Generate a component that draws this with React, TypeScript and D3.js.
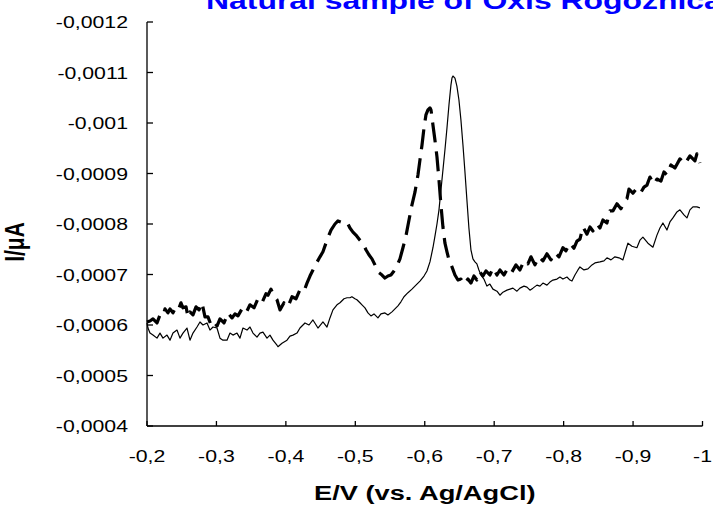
import React from "react";
import * as d3 from "d3";

const W = 713;
const H = 510;

const title = "Natural sample of Oxis Rogoznica";
const xTitle = "E/V (vs. Ag/AgCl)";
const yTitle = "I/μA";

const xTicks = [-0.2, -0.3, -0.4, -0.5, -0.6, -0.7, -0.8, -0.9, -1];
const yTicks = [-0.0012, -0.0011, -0.001, -0.0009, -0.0008, -0.0007, -0.0006, -0.0005, -0.0004];

// Thin solid voltammogram: [E (V), I]
const solidTrace: [number, number][] = [
  [-0.2000,-0.000604],[-0.2014,-0.000594],[-0.2043,-0.000584],[-0.2086,-0.000580],[-0.2144,-0.000574],[-0.2187,-0.000584],[-0.2230,-0.000574],[-0.2288,-0.000580],[-0.2331,-0.000570],[-0.2374,-0.000584],[-0.2432,-0.000590],[-0.2475,-0.000574],[-0.2518,-0.000584],[-0.2576,-0.000594],[-0.2619,-0.000570],[-0.2662,-0.000584],[-0.2720,-0.000596],[-0.2763,-0.000606],[-0.2806,-0.000600],[-0.2864,-0.000604],[-0.2907,-0.000590],[-0.2950,-0.000596],[-0.3008,-0.000594],[-0.3051,-0.000574],[-0.3094,-0.000570],[-0.3152,-0.000570],[-0.3195,-0.000584],[-0.3238,-0.000580],[-0.3296,-0.000584],[-0.3339,-0.000574],[-0.3382,-0.000594],[-0.3440,-0.000590],[-0.3483,-0.000596],[-0.3526,-0.000584],[-0.3584,-0.000576],[-0.3627,-0.000584],[-0.3670,-0.000586],[-0.3728,-0.000574],[-0.3771,-0.000580],[-0.3814,-0.000570],[-0.3872,-0.000560],[-0.3886,-0.000557],[-0.3944,-0.000564],[-0.4016,-0.000570],[-0.4059,-0.000578],[-0.4102,-0.000580],[-0.4160,-0.000584],[-0.4203,-0.000594],[-0.4275,-0.000604],[-0.4333,-0.000600],[-0.4390,-0.000610],[-0.4462,-0.000594],[-0.4534,-0.000606],[-0.4592,-0.000596],[-0.4635,-0.000614],[-0.4678,-0.000630],[-0.4736,-0.000640],[-0.4779,-0.000644],[-0.4837,-0.000652],[-0.4880,-0.000654],[-0.4923,-0.000654],[-0.4951,-0.000656],[-0.4995,-0.000652],[-0.5023,-0.000650],[-0.5067,-0.000644],[-0.5096,-0.000640],[-0.5139,-0.000634],[-0.5182,-0.000624],[-0.5225,-0.000618],[-0.5269,-0.000622],[-0.5326,-0.000614],[-0.5369,-0.000622],[-0.5427,-0.000624],[-0.5470,-0.000620],[-0.5528,-0.000626],[-0.5571,-0.000632],[-0.5614,-0.000638],[-0.5657,-0.000646],[-0.5701,-0.000656],[-0.5758,-0.000664],[-0.5816,-0.000671],[-0.5873,-0.000679],[-0.5931,-0.000687],[-0.5989,-0.000697],[-0.6032,-0.000707],[-0.6075,-0.000725],[-0.6118,-0.000753],[-0.6147,-0.000776],[-0.6176,-0.000800],[-0.6205,-0.000828],[-0.6233,-0.000867],[-0.6262,-0.000907],[-0.6291,-0.000947],[-0.6320,-0.000990],[-0.6349,-0.001036],[-0.6377,-0.001075],[-0.6392,-0.001089],[-0.6406,-0.001093],[-0.6435,-0.001089],[-0.6463,-0.001073],[-0.6492,-0.001046],[-0.6521,-0.001006],[-0.6550,-0.000957],[-0.6579,-0.000903],[-0.6607,-0.000848],[-0.6636,-0.000792],[-0.6665,-0.000749],[-0.6694,-0.000731],[-0.6723,-0.000725],[-0.6751,-0.000721],[-0.6780,-0.000709],[-0.6809,-0.000699],[-0.6852,-0.000691],[-0.6895,-0.000677],[-0.6938,-0.000681],[-0.6982,-0.000671],[-0.7040,-0.000667],[-0.7083,-0.000659],[-0.7126,-0.000665],[-0.7184,-0.000669],[-0.7227,-0.000671],[-0.7270,-0.000673],[-0.7328,-0.000667],[-0.7371,-0.000673],[-0.7429,-0.000677],[-0.7472,-0.000675],[-0.7515,-0.000669],[-0.7558,-0.000673],[-0.7616,-0.000679],[-0.7659,-0.000677],[-0.7702,-0.000683],[-0.7760,-0.000679],[-0.7803,-0.000685],[-0.7846,-0.000689],[-0.7904,-0.000691],[-0.7947,-0.000695],[-0.7990,-0.000691],[-0.8048,-0.000695],[-0.8091,-0.000689],[-0.8120,-0.000687],[-0.8163,-0.000699],[-0.8206,-0.000709],[-0.8235,-0.000715],[-0.8293,-0.000709],[-0.8350,-0.000711],[-0.8408,-0.000719],[-0.8451,-0.000723],[-0.8523,-0.000725],[-0.8581,-0.000727],[-0.8624,-0.000733],[-0.8682,-0.000729],[-0.8739,-0.000735],[-0.8797,-0.000733],[-0.8854,-0.000729],[-0.8897,-0.000749],[-0.8926,-0.000762],[-0.8984,-0.000756],[-0.9055,-0.000753],[-0.9099,-0.000768],[-0.9142,-0.000774],[-0.9214,-0.000762],[-0.9286,-0.000754],[-0.9344,-0.000778],[-0.9387,-0.000792],[-0.9430,-0.000802],[-0.9488,-0.000788],[-0.9531,-0.000804],[-0.9574,-0.000812],[-0.9632,-0.000824],[-0.9675,-0.000828],[-0.9733,-0.000818],[-0.9776,-0.000812],[-0.9819,-0.000828],[-0.9862,-0.000834],[-0.9920,-0.000834],[-0.9963,-0.000832],
];

// Bold dashed voltammogram (noisy baseline): [E (V), I]
const dashedTrace: [number, number][] = [
  [-0.2000,-0.000606],[-0.2043,-0.000608],[-0.2086,-0.000612],[-0.2144,-0.000604],[-0.2187,-0.000620],[-0.2230,-0.000618],[-0.2259,-0.000632],[-0.2302,-0.000624],[-0.2331,-0.000632],[-0.2374,-0.000624],[-0.2403,-0.000632],[-0.2446,-0.000628],[-0.2489,-0.000644],[-0.2518,-0.000634],[-0.2562,-0.000636],[-0.2590,-0.000616],[-0.2619,-0.000626],[-0.2662,-0.000620],[-0.2706,-0.000636],[-0.2749,-0.000630],[-0.2792,-0.000644],[-0.2835,-0.000616],[-0.2878,-0.000616],[-0.2922,-0.000600],[-0.2965,-0.000606],[-0.3008,-0.000598],[-0.3051,-0.000612],[-0.3109,-0.000604],[-0.3166,-0.000624],[-0.3224,-0.000614],[-0.3267,-0.000622],[-0.3310,-0.000618],[-0.3368,-0.000632],[-0.3426,-0.000624],[-0.3483,-0.000640],[-0.3541,-0.000634],[-0.3598,-0.000652],[-0.3656,-0.000644],[-0.3714,-0.000662],[-0.3742,-0.000659],[-0.3785,-0.000671],[-0.3829,-0.000658],[-0.3872,-0.000650],[-0.3915,-0.000630],[-0.3973,-0.000644],[-0.4030,-0.000636],[-0.4088,-0.000656],[-0.4146,-0.000652],[-0.4203,-0.000670],[-0.4261,-0.000667],[-0.4304,-0.000683],[-0.4347,-0.000697],[-0.4390,-0.000709],[-0.4434,-0.000721],[-0.4491,-0.000735],[-0.4534,-0.000745],[-0.4592,-0.000768],[-0.4650,-0.000788],[-0.4707,-0.000800],[-0.4750,-0.000806],[-0.4793,-0.000804],[-0.4837,-0.000804],[-0.4880,-0.000804],[-0.4923,-0.000792],[-0.4966,-0.000784],[-0.5009,-0.000778],[-0.5067,-0.000768],[-0.5110,-0.000762],[-0.5153,-0.000749],[-0.5196,-0.000739],[-0.5240,-0.000731],[-0.5283,-0.000719],[-0.5326,-0.000705],[-0.5384,-0.000699],[-0.5427,-0.000693],[-0.5470,-0.000697],[-0.5513,-0.000699],[-0.5557,-0.000707],[-0.5600,-0.000717],[-0.5643,-0.000731],[-0.5686,-0.000753],[-0.5729,-0.000776],[-0.5773,-0.000808],[-0.5816,-0.000838],[-0.5859,-0.000863],[-0.5902,-0.000897],[-0.5931,-0.000927],[-0.5960,-0.000956],[-0.5989,-0.000990],[-0.6017,-0.001016],[-0.6046,-0.001026],[-0.6075,-0.001030],[-0.6090,-0.001026],[-0.6118,-0.000996],[-0.6147,-0.000966],[-0.6176,-0.000933],[-0.6205,-0.000887],[-0.6233,-0.000838],[-0.6262,-0.000794],[-0.6291,-0.000762],[-0.6320,-0.000745],[-0.6349,-0.000729],[-0.6392,-0.000715],[-0.6435,-0.000699],[-0.6478,-0.000689],[-0.6521,-0.000691],[-0.6564,-0.000681],[-0.6622,-0.000691],[-0.6665,-0.000683],[-0.6708,-0.000697],[-0.6751,-0.000689],[-0.6795,-0.000705],[-0.6838,-0.000697],[-0.6881,-0.000707],[-0.6938,-0.000699],[-0.6982,-0.000713],[-0.7040,-0.000699],[-0.7083,-0.000709],[-0.7141,-0.000699],[-0.7198,-0.000713],[-0.7256,-0.000705],[-0.7314,-0.000719],[-0.7371,-0.000709],[-0.7429,-0.000727],[-0.7486,-0.000721],[-0.7529,-0.000735],[-0.7587,-0.000719],[-0.7645,-0.000735],[-0.7702,-0.000727],[-0.7760,-0.000741],[-0.7817,-0.000729],[-0.7875,-0.000743],[-0.7933,-0.000735],[-0.7990,-0.000753],[-0.8033,-0.000747],[-0.8091,-0.000762],[-0.8149,-0.000752],[-0.8192,-0.000766],[-0.8235,-0.000770],[-0.8278,-0.000794],[-0.8336,-0.000780],[-0.8379,-0.000794],[-0.8422,-0.000786],[-0.8480,-0.000800],[-0.8523,-0.000792],[-0.8566,-0.000808],[-0.8624,-0.000802],[-0.8667,-0.000826],[-0.8710,-0.000826],[-0.8768,-0.000840],[-0.8825,-0.000830],[-0.8883,-0.000846],[-0.8912,-0.000850],[-0.8941,-0.000869],[-0.8998,-0.000861],[-0.9056,-0.000871],[-0.9114,-0.000863],[-0.9157,-0.000873],[-0.9200,-0.000877],[-0.9243,-0.000893],[-0.9301,-0.000879],[-0.9344,-0.000889],[-0.9402,-0.000885],[-0.9445,-0.000903],[-0.9488,-0.000897],[-0.9546,-0.000917],[-0.9603,-0.000911],[-0.9675,-0.000929],[-0.9747,-0.000919],[-0.9819,-0.000935],[-0.9891,-0.000925],[-0.9920,-0.000939],[-0.9963,-0.000921],
];

const FONT = "'Liberation Sans', Arial, sans-serif";
const SX = 1.33; // horizontal stretch of all chart text

const plot = { left: 147, right: 702.5, top: 22, bottom: 426 };

const locale = d3.formatLocale({
  decimal: ",",
  thousands: ".",
  grouping: [3],
  currency: ["", ""],
  minus: "-",
});
const fmt = locale.format("~g");

export default function App() {
  const x = d3.scaleLinear().domain([-0.2, -1]).range([plot.left, plot.right]);
  const y = d3.scaleLinear().domain([-0.0012, -0.0004]).range([plot.top, plot.bottom]);

  const line = d3
    .line<[number, number]>()
    .x((d) => x(d[0]))
    .y((d) => y(d[1]));

  return (
    <svg
      width={W}
      height={H}
      style={{ position: "absolute", left: 0, top: 0, background: "#fff" }}
      fontFamily={FONT}
    >
      <rect x={0} y={0} width={W} height={H} fill="#fff" />

      {/* chart title */}
      <text
        transform={`translate(206,9) scale(${SX},1)`}
        fontSize={24}
        fontWeight="bold"
        fill="#0000ff"
      >
        {title}
      </text>

      {/* axes */}
      <line x1={plot.left} x2={plot.left} y1={plot.top} y2={plot.bottom} stroke="#000" strokeWidth={1.3} />
      <line x1={plot.left} x2={plot.right} y1={plot.bottom} y2={plot.bottom} stroke="#000" strokeWidth={1.3} />

      {yTicks.map((t) => (
        <g key={"y" + t}>
          <line x1={plot.left} x2={plot.left + 6} y1={y(t)} y2={y(t)} stroke="#000" strokeWidth={1.3} />
          <text
            transform={`translate(128,${y(t) + 6}) scale(${SX},1)`}
            textAnchor="end"
            fontSize={16}
            fill="#000"
          >
            {fmt(t)}
          </text>
        </g>
      ))}

      {xTicks.map((t) => (
        <g key={"x" + t}>
          <line x1={x(t)} x2={x(t)} y1={plot.bottom} y2={plot.bottom - 5} stroke="#000" strokeWidth={1.3} />
          <text
            transform={`translate(${x(t)},462) scale(${SX},1)`}
            textAnchor="middle"
            fontSize={16}
            fill="#000"
          >
            {fmt(t)}
          </text>
        </g>
      ))}

      <text
        transform={`translate(${(plot.left + plot.right) / 2},500) scale(${SX},1)`}
        textAnchor="middle"
        fontSize={20.5}
        fontWeight="bold"
        fill="#000"
      >
        {xTitle}
      </text>

      <text
        transform={`translate(24,242) scale(${SX},1) rotate(-90)`}
        textAnchor="middle"
        fontSize={21}
        fontWeight="bold"
        fill="#000"
      >
        {yTitle}
      </text>

      {/* traces */}
      <path d={line(solidTrace) ?? ""} fill="none" stroke="#000" strokeWidth={1.2} strokeLinejoin="round" />
      <path
        d={line(dashedTrace) ?? ""}
        fill="none"
        stroke="#000"
        strokeWidth={3.2}
        strokeDasharray="20,9"
        strokeLinejoin="round"
      />
    </svg>
  );
}
